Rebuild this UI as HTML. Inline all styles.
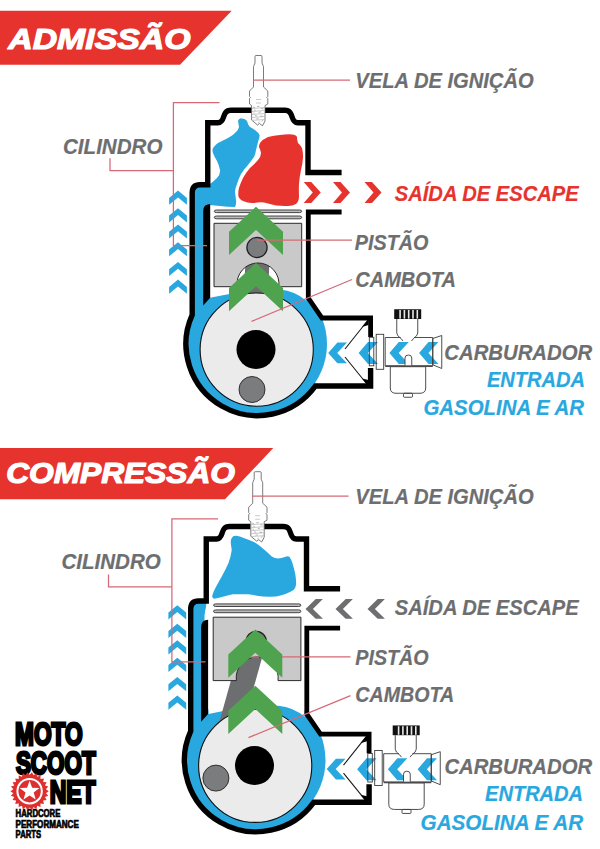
<!DOCTYPE html>
<html><head><meta charset="utf-8"><title>Motor 2T</title>
<style>html,body{margin:0;padding:0;background:#fff}svg{display:block}</style></head>
<body>
<svg width="600" height="849" viewBox="0 0 600 849" font-family="'Liberation Sans', sans-serif" font-weight="bold" font-style="italic">
<rect width="600" height="849" fill="#fff"/>
<polygon points="0,10.8 231.7,10.8 180,64.7 0,64.7" fill="#e6332e"/>
<polygon points="0,448 273.3,448 225,499.2 0,499.2" fill="#e6332e"/>
<g><circle cx="257.5" cy="344" r="69.5" fill="#29a8e0"/>
<rect x="192" y="186" width="14" height="140" fill="#29a8e0"/>
<path d="M210,150 H306 V300.5 Q295,291 280,289.5 Q250,289 210,297.75 Z" fill="#fff"/>
<path d="M238,121 Q239,117.5 242,118.4 Q245.5,118.6 247,121 Q248,125 250,127 Q254,129 256,131 Q260,133.5 259.6,136 Q259,139 258,142 L256,150 Q255.5,154 254,157 Q251,161 248,165 Q244,169 241,174 Q238.5,179 237,184 Q235.2,188 235,192 Q235.5,196 236,200 Q236.5,204 235,207 Q228,207 220,206 Q212,205 204,204.5 L193,204 L193,186 L204,186 Q207,186 210,184 Q214,181 217,178 Q220.5,174 220,170 Q219,165 217,161 Q214,156 213,153 Q212,150.5 213,148 Q215,145 218,143 Q223,140.5 228,138 Q233,135.5 236,132 Q238.5,129.5 239,127 Q238.5,124 238,121 Z" fill="#29a8e0"/>
<path d="M260,143 Q263,139 268,137 Q274,135.5 280,135 Q286,134.2 292,134.4 Q296,134.8 297,137 Q297,140 298,143 Q300.5,145 302,148 Q303.3,153 303,158 Q302.5,164 301,170 Q299.5,177 299,184 Q298.7,190 299,196 Q299,201.5 296,204 Q292.5,206 288,206 Q282,206.2 276,205.6 Q270,204 264,202.4 Q259,202 254,203 Q248,203.5 243,201 Q239,199 238.4,196 Q238,192 239,188 Q240.5,183 243,178 Q246,172.5 250,168 Q254.5,164 258,160 Q261,156.5 261,153 Q260.5,150 259,147 Q259,145 260,143 Z" fill="#e6332e"/>
<path d="M368.5,319.5 L345,349 M345,357 L368.5,386" stroke="#1a1a1a" stroke-width="1.1" fill="none"/>
<path d="M368.5,319 L368.5,325 L362,327 Z M368.5,386.5 L368.5,380 L362,378.5 Z" fill="#000"/>
<path d="M341.6,172.5 H308 V122.75 H297.7 C289.7,122.75 294.7,110.25 284.7,110.25 H265 M252,110.25 H231 C221,110.25 226,122.75 218,122.75 H207.75 V184.8 H200 Q192.2,184.8 192.2,193 V314.9 A71.5,71.5 0 0 0 315.4,386 H370.6 V368" fill="none" stroke="#000" stroke-width="5.4" stroke-linejoin="miter"/>
<path d="M341.6,212 H308.3 V298 L322,318 H370.6 V337" fill="none" stroke="#000" stroke-width="4.8" stroke-linejoin="miter"/>
<path d="M203.2,211 Q203.2,204 210.2,204 V297.7 L203.2,305.6 Z" fill="#000"/>
<line x1="258" y1="247.5" x2="252" y2="389.5" stroke="#6d6e70" stroke-width="24"/>
<g transform="translate(0.00,0.00)">
<path d="M214.3,211.30 Q214.3,210.00 216.5,210.00 H299.5 Q301.7,210.00 301.7,211.30 Q301.7,212.60 299.5,212.60 H216.5 Q214.3,212.60 214.3,211.30 Z" fill="#bdbdbd" stroke="#333" stroke-width="0.9"/>
<path d="M214.3,217.40 Q214.3,216.00 216.5,216.00 H299.5 Q301.7,216.00 301.7,217.40 Q301.7,218.80 299.5,218.80 H216.5 Q214.3,218.80 214.3,217.40 Z" fill="#bdbdbd" stroke="#333" stroke-width="0.9"/>
<path d="M214,223.3 H301.7 V286.7 H278.82 A21,21 0 1 0 237.18,286.7 H214 Z" fill="#c9c9c9" stroke="#2a2a2a" stroke-width="1"/>
<circle cx="257" cy="247.5" r="10.1" fill="#7b7c7e" stroke="#222" stroke-width="1.3"/>
</g>
<circle cx="256.7" cy="349.6" r="56.6" fill="#ebebeb" stroke="#111" stroke-width="1.1"/>
<circle cx="256" cy="349.4" r="19.5" fill="#000"/>
<circle cx="252" cy="389.5" r="13" fill="#7b7c7e" stroke="#222" stroke-width="0.9"/><polygon points="256.00,206.70 283.00,231.70 283.00,255.00 256.00,230.00 229.00,255.00 229.00,231.70" fill="#4fa34f"/>
<polygon points="256.00,263.00 283.00,288.00 283.00,311.30 256.00,286.30 229.00,311.30 229.00,288.00" fill="#4fa34f"/><polygon points="178.00,190.60 186.90,197.90 186.90,204.70 178.00,197.40 169.10,204.70 169.10,197.90" fill="#29a8e0"/>
<polygon points="178.00,208.30 186.90,215.60 186.90,222.40 178.00,215.10 169.10,222.40 169.10,215.60" fill="#29a8e0"/>
<polygon points="178.00,224.50 186.90,231.80 186.90,238.60 178.00,231.30 169.10,238.60 169.10,231.80" fill="#29a8e0"/>
<polygon points="178.00,242.20 186.90,249.50 186.90,256.30 178.00,249.00 169.10,256.30 169.10,249.50" fill="#29a8e0"/>
<polygon points="178.00,262.00 186.90,269.30 186.90,276.10 178.00,268.80 169.10,276.10 169.10,269.30" fill="#29a8e0"/>
<polygon points="178.00,279.60 186.90,286.90 186.90,293.70 178.00,286.40 169.10,293.70 169.10,286.90" fill="#29a8e0"/>
<polygon points="328.20,352.90 337.40,342.50 347.00,342.50 337.20,352.90 347.00,363.30 337.40,363.30" fill="#29a8e0"/>
<polygon points="358.60,353.10 368.00,342.10 378.00,342.10 367.90,353.10 378.00,364.10 368.00,364.10" fill="#29a8e0"/>
<polygon points="389.40,353.10 398.80,342.10 408.80,342.10 398.70,353.10 408.80,364.10 398.80,364.10" fill="#29a8e0"/>
<polygon points="419.10,353.10 428.50,342.10 438.50,342.10 428.40,353.10 438.50,364.10 428.50,364.10" fill="#29a8e0"/>
<rect x="369.3" y="337.3" width="4.5" height="28.5" fill="none" stroke="#3a3a3a" stroke-width="0.9"/>
<rect x="376.2" y="334.3" width="7.5" height="35" fill="none" stroke="#3a3a3a" stroke-width="0.9"/>
<path d="M396.75,319 V333 Q397,336 401,338.5 L403,341 M417.75,319 V333 Q417.5,336 413.5,338.5 L411.5,341" fill="none" stroke="#3a3a3a" stroke-width="0.9"/>
<path d="M400.5,337.5 H385.2 V365.8 H432.75 V337.5 H414" fill="none" stroke="#3a3a3a" stroke-width="0.9"/>
<path d="M432.75,338.5 L441.75,335.5 V368.5 L432.75,364.75 Z" fill="none" stroke="#3a3a3a" stroke-width="0.9"/>
<path d="M390.3,366.7 H425.7 V388 Q425.7,393.25 420,393.25 H396 Q390.3,393.25 390.3,388 Z" fill="none" stroke="#3a3a3a" stroke-width="0.9"/>
<rect x="403.5" y="393.25" width="9" height="4" rx="1" fill="none" stroke="#3a3a3a" stroke-width="0.9"/>
<path d="M405,365.5 V358 Q405,355 408.4,355 Q411.75,355 411.75,358 V365.5" fill="#fff" stroke="#3a3a3a" stroke-width="0.9"/>
<path d="M385.2,366.2 H432.75" fill="none" stroke="#4a4a4a" stroke-width="1.5"/>
<rect x="394.2" y="309.25" width="27" height="9.75" fill="#111"/>
<rect x="399.3" y="310" width="1.6" height="8.6" fill="#e8e8e8"/>
<rect x="403.6" y="310" width="1.6" height="8.6" fill="#e8e8e8"/>
<rect x="407.9" y="310" width="1.6" height="8.6" fill="#e8e8e8"/>
<rect x="412.2" y="310" width="1.6" height="8.6" fill="#e8e8e8"/>
<rect x="416.5" y="310" width="1.6" height="8.6" fill="#e8e8e8"/>
<polygon points="303.75,182.00 311.25,182.00 320.75,192.50 311.25,203.00 303.75,203.00 312.75,192.50" fill="#e6332e"/>
<polygon points="333.00,182.00 340.50,182.00 350.00,192.50 340.50,203.00 333.00,203.00 342.00,192.50" fill="#e6332e"/>
<polygon points="364.50,182.00 372.00,182.00 381.50,192.50 372.00,203.00 364.50,203.00 373.50,192.50" fill="#e6332e"/>
<g transform="translate(0.0,0)">
<path d="M255,63 V56.5 Q255,55.5 256,55.5 H261 Q262,55.5 262,56.5 V63 L263.5,66.5 V87 L267.8,91 V96.5 L266.8,97.5 L267.8,98.5 V104 L265,105.5 V121 L262.5,125.8 L259.5,123.5 L257.5,125 L251.6,120 V105.5 L249.5,104 V98.5 L250.5,97.5 L249.5,96.5 V91 L253.5,87 V66.5 Z" fill="#fff" stroke="#5a5a5a" stroke-width="0.8" stroke-linejoin="round"/>
<path d="M252,108.5 L264.6,107.5 M252,111.5 L264.6,110.5 M252,114.5 L264.6,113.5 M252,117.5 L264.6,116.5 M252.5,120.3 L264.6,119.5 M256,99.5 H261 M256,103 H261" stroke="#bbb" stroke-width="0.8" fill="none"/>
<path d="M253,107 l2,0.6 M257,106.6 l2.5,-0.4 M261,108.6 l2.6,0.2 M254,110 l1.6,0.3 M258.6,112.4 l2.2,-0.5 M255,115.6 l2,0.5 M260.4,116 l2.4,0.3 M256.4,119 l2.2,-0.4 M253.4,113 l1.2,0.2 M261.6,121.4 l1.6,-1.2 M258.2,122.6 l1.4,-0.8" stroke="#999" stroke-width="0.7" fill="none"/>
</g>
<path d="M253.5,80 H350" fill="none" stroke="#d66876" stroke-width="1.25"/>
<path d="M219.5,102.6 H173.4 V245.7 H207 M110,158.3 V170.7 H173.4" fill="none" stroke="#d66876" stroke-width="1.25"/>
<path d="M257,240.2 H352" fill="none" stroke="#d66876" stroke-width="1.25"/>
<path d="M251.6,321.4 L352,279.5" fill="none" stroke="#d66876" stroke-width="1.25"/></g>
<g transform="translate(-1.50,416.20)"><circle cx="257.5" cy="344" r="69.5" fill="#29a8e0"/>
<rect x="192" y="186" width="14" height="140" fill="#29a8e0"/>
<path d="M210,150 H306 V300.5 Q295,291 280,289.5 Q250,289 210,297.75 Z" fill="#fff"/>
<path transform="translate(1,0.3)" d="M232.25,121.5 Q233.5,119 236.6,119.35 Q240.5,119.8 244.2,121.5 Q250,123.5 255,125.85 Q259.5,128.5 263.7,132.35 Q268,136 272.3,139.9 Q275,142 278.8,142.1 Q282,141.5 285.3,140.4 Q288.5,139.3 290.1,140.4 Q291.8,143 292.9,146.4 Q294.6,152 295.7,157.3 Q296.8,163 296.6,168.1 Q296.2,171.5 294,173.5 Q290,176.2 285.3,177.85 Q281,179.3 276.7,180 Q270,180.3 263.7,180 Q256,179 248.5,177.85 Q241,177.5 233.3,177.85 Q228,179 222.5,180.6 Q218,182 214.9,182.2 Q212.3,181.5 212.75,178.9 Q214,175 216,171.35 Q219,165.5 222.5,159.4 Q226,153 229,146.4 Q231.3,140 232.25,133.4 Q231.5,129 231.2,125.85 Q231.3,123 232.25,121.5 Z" fill="#29a8e0"/>
<path d="M193,186 L208,186.5 Q207,197 203,206 L193,206 Z" fill="#29a8e0"/>
<path d="M368.5,319.5 L345,349 M345,357 L368.5,386" stroke="#1a1a1a" stroke-width="1.1" fill="none"/>
<path d="M368.5,319 L368.5,325 L362,327 Z M368.5,386.5 L368.5,380 L362,378.5 Z" fill="#000"/>
<path d="M341.6,172.5 H308 V122.75 H297.7 C289.7,122.75 294.7,110.25 284.7,110.25 H265 M252,110.25 H231 C221,110.25 226,122.75 218,122.75 H207.75 V184.8 H200 Q192.2,184.8 192.2,193 V314.9 A71.5,71.5 0 0 0 315.4,386 H370.6 V368" fill="none" stroke="#000" stroke-width="5.4" stroke-linejoin="miter"/>
<path d="M341.6,212 H308.3 V298 L322,318 H370.6 V337" fill="none" stroke="#000" stroke-width="4.8" stroke-linejoin="miter"/>
<path d="M202.6,211 Q202.6,204 209.6,203.6 V297.7 L202.6,305.6 Z" fill="#000"/>
<line x1="255.9" y1="224.6" x2="217.6" y2="361.6" stroke="#6d6e70" stroke-width="23.8"/>
<g transform="translate(0.70,-22.30)">
<path d="M214.3,211.30 Q214.3,210.00 216.5,210.00 H299.5 Q301.7,210.00 301.7,211.30 Q301.7,212.60 299.5,212.60 H216.5 Q214.3,212.60 214.3,211.30 Z" fill="#bdbdbd" stroke="#333" stroke-width="0.9"/>
<path d="M214.3,217.40 Q214.3,216.00 216.5,216.00 H299.5 Q301.7,216.00 301.7,217.40 Q301.7,218.80 299.5,218.80 H216.5 Q214.3,218.80 214.3,217.40 Z" fill="#bdbdbd" stroke="#333" stroke-width="0.9"/>
<path d="M214,223.3 H301.7 V286.7 H278.82 A21,21 0 1 0 237.18,286.7 H214 Z" fill="#c9c9c9" stroke="#2a2a2a" stroke-width="1"/>
<circle cx="257" cy="247.5" r="10.1" fill="#7b7c7e" stroke="#222" stroke-width="1.3"/>
</g>
<circle cx="256.7" cy="349.6" r="56.6" fill="#ebebeb" stroke="#111" stroke-width="1.1"/>
<circle cx="256" cy="349.4" r="19.5" fill="#000"/>
<circle cx="217.4" cy="361.9" r="13" fill="#7b7c7e" stroke="#222" stroke-width="0.9"/><polygon points="256.80,213.30 283.80,238.30 283.80,261.60 256.80,236.60 229.80,261.60 229.80,238.30" fill="#4fa34f"/>
<polygon points="256.80,269.60 283.80,294.60 283.80,317.90 256.80,292.90 229.80,317.90 229.80,294.60" fill="#4fa34f"/><polygon points="178.80,189.00 187.70,196.30 187.70,203.20 178.80,195.90 169.90,203.20 169.90,196.30" fill="#29a8e0"/>
<polygon points="178.80,207.60 187.70,214.90 187.70,221.80 178.80,214.50 169.90,221.80 169.90,214.90" fill="#29a8e0"/>
<polygon points="178.80,224.00 187.70,231.30 187.70,238.20 178.80,230.90 169.90,238.20 169.90,231.30" fill="#29a8e0"/>
<polygon points="178.80,241.60 187.70,248.90 187.70,255.80 178.80,248.50 169.90,255.80 169.90,248.90" fill="#29a8e0"/>
<polygon points="178.80,260.80 187.70,268.10 187.70,275.00 178.80,267.70 169.90,275.00 169.90,268.10" fill="#29a8e0"/>
<polygon points="178.80,279.30 187.70,286.60 187.70,293.50 178.80,286.20 169.90,293.50 169.90,286.60" fill="#29a8e0"/>
<polygon points="328.20,352.90 337.40,342.50 347.00,342.50 337.20,352.90 347.00,363.30 337.40,363.30" fill="#29a8e0"/>
<polygon points="358.60,353.10 368.00,342.10 378.00,342.10 367.90,353.10 378.00,364.10 368.00,364.10" fill="#29a8e0"/>
<polygon points="389.40,353.10 398.80,342.10 408.80,342.10 398.70,353.10 408.80,364.10 398.80,364.10" fill="#29a8e0"/>
<polygon points="419.10,353.10 428.50,342.10 438.50,342.10 428.40,353.10 438.50,364.10 428.50,364.10" fill="#29a8e0"/>
<rect x="369.3" y="337.3" width="4.5" height="28.5" fill="none" stroke="#3a3a3a" stroke-width="0.9"/>
<rect x="376.2" y="334.3" width="7.5" height="35" fill="none" stroke="#3a3a3a" stroke-width="0.9"/>
<path d="M396.75,319 V333 Q397,336 401,338.5 L403,341 M417.75,319 V333 Q417.5,336 413.5,338.5 L411.5,341" fill="none" stroke="#3a3a3a" stroke-width="0.9"/>
<path d="M400.5,337.5 H385.2 V365.8 H432.75 V337.5 H414" fill="none" stroke="#3a3a3a" stroke-width="0.9"/>
<path d="M432.75,338.5 L441.75,335.5 V368.5 L432.75,364.75 Z" fill="none" stroke="#3a3a3a" stroke-width="0.9"/>
<path d="M390.3,366.7 H425.7 V388 Q425.7,393.25 420,393.25 H396 Q390.3,393.25 390.3,388 Z" fill="none" stroke="#3a3a3a" stroke-width="0.9"/>
<rect x="403.5" y="393.25" width="9" height="4" rx="1" fill="none" stroke="#3a3a3a" stroke-width="0.9"/>
<path d="M405,365.5 V358 Q405,355 408.4,355 Q411.75,355 411.75,358 V365.5" fill="#fff" stroke="#3a3a3a" stroke-width="0.9"/>
<path d="M385.2,366.2 H432.75" fill="none" stroke="#4a4a4a" stroke-width="1.5"/>
<rect x="394.2" y="309.25" width="27" height="9.75" fill="#111"/>
<rect x="399.3" y="310" width="1.6" height="8.6" fill="#e8e8e8"/>
<rect x="403.6" y="310" width="1.6" height="8.6" fill="#e8e8e8"/>
<rect x="407.9" y="310" width="1.6" height="8.6" fill="#e8e8e8"/>
<rect x="412.2" y="310" width="1.6" height="8.6" fill="#e8e8e8"/>
<rect x="416.5" y="310" width="1.6" height="8.6" fill="#e8e8e8"/>
<polygon points="307.00,192.70 317.20,182.90 324.40,182.90 314.40,192.70 324.40,202.50 317.20,202.50" fill="#6d6e70"/>
<polygon points="337.00,192.70 347.20,182.90 354.40,182.90 344.40,192.70 354.40,202.50 347.20,202.50" fill="#6d6e70"/>
<polygon points="369.00,192.70 379.20,182.90 386.40,182.90 376.40,192.70 386.40,202.50 379.20,202.50" fill="#6d6e70"/>
<g transform="translate(0.7,0)">
<path d="M255,63 V56.5 Q255,55.5 256,55.5 H261 Q262,55.5 262,56.5 V63 L263.5,66.5 V87 L267.8,91 V96.5 L266.8,97.5 L267.8,98.5 V104 L265,105.5 V121 L262.5,125.8 L259.5,123.5 L257.5,125 L251.6,120 V105.5 L249.5,104 V98.5 L250.5,97.5 L249.5,96.5 V91 L253.5,87 V66.5 Z" fill="#fff" stroke="#5a5a5a" stroke-width="0.8" stroke-linejoin="round"/>
<path d="M252,108.5 L264.6,107.5 M252,111.5 L264.6,110.5 M252,114.5 L264.6,113.5 M252,117.5 L264.6,116.5 M252.5,120.3 L264.6,119.5 M256,99.5 H261 M256,103 H261" stroke="#bbb" stroke-width="0.8" fill="none"/>
<path d="M253,107 l2,0.6 M257,106.6 l2.5,-0.4 M261,108.6 l2.6,0.2 M254,110 l1.6,0.3 M258.6,112.4 l2.2,-0.5 M255,115.6 l2,0.5 M260.4,116 l2.4,0.3 M256.4,119 l2.2,-0.4 M253.4,113 l1.2,0.2 M261.6,121.4 l1.6,-1.2 M258.2,122.6 l1.4,-0.8" stroke="#999" stroke-width="0.7" fill="none"/>
</g>
<path d="M253.5,80 H350" fill="none" stroke="#d66876" stroke-width="1.25"/>
<path d="M219.5,102.6 H173.4 V245.7 H207 M110,158.3 V170.7 H173.4" fill="none" stroke="#d66876" stroke-width="1.25"/>
<path d="M283.5,240.6 H352 M253,241 H260.5" fill="none" stroke="#d66876" stroke-width="1.25"/>
<path d="M250,321.4 L352,279.5" fill="none" stroke="#d66876" stroke-width="1.25"/></g>
<text x="8.20" y="48.70" textLength="182.40" lengthAdjust="spacingAndGlyphs" fill="#fff" font-size="29.60" stroke="#fff" stroke-width="1.2" stroke-linejoin="round">ADMISSÃO</text>
<text x="6.20" y="483.40" textLength="228.80" lengthAdjust="spacingAndGlyphs" fill="#fff" font-size="29.40" stroke="#fff" stroke-width="1.2" stroke-linejoin="round">COMPRESSÃO</text>
<text x="355.30" y="87.50" textLength="178.40" lengthAdjust="spacingAndGlyphs" fill="#6d6e70" font-size="22.20" stroke="#6d6e70" stroke-width="0.2">VELA DE IGNIÇÃO</text>
<text x="63.00" y="153.80" textLength="99.40" lengthAdjust="spacingAndGlyphs" fill="#6d6e70" font-size="22.20" stroke="#6d6e70" stroke-width="0.2">CILINDRO</text>
<text x="394.80" y="200.50" textLength="183.90" lengthAdjust="spacingAndGlyphs" fill="#e6332e" font-size="22.20" stroke="#e6332e" stroke-width="0.2">SAÍDA DE ESCAPE</text>
<text x="354.80" y="249.80" textLength="73.65" lengthAdjust="spacingAndGlyphs" fill="#6d6e70" font-size="22.20" stroke="#6d6e70" stroke-width="0.2">PISTÃO</text>
<text x="355.30" y="286.55" textLength="100.60" lengthAdjust="spacingAndGlyphs" fill="#6d6e70" font-size="22.20" stroke="#6d6e70" stroke-width="0.2">CAMBOTA</text>
<text x="444.30" y="359.80" textLength="147.90" lengthAdjust="spacingAndGlyphs" fill="#6d6e70" font-size="22.20" stroke="#6d6e70" stroke-width="0.2">CARBURADOR</text>
<text x="486.90" y="386.80" textLength="98.10" lengthAdjust="spacingAndGlyphs" fill="#29a8e0" font-size="22.20" stroke="#29a8e0" stroke-width="0.2">ENTRADA</text>
<text x="423.50" y="414.80" textLength="160.60" lengthAdjust="spacingAndGlyphs" fill="#29a8e0" font-size="22.20" stroke="#29a8e0" stroke-width="0.2">GASOLINA E AR</text>
<text x="355.30" y="503.80" textLength="178.40" lengthAdjust="spacingAndGlyphs" fill="#6d6e70" font-size="22.20" stroke="#6d6e70" stroke-width="0.2">VELA DE IGNIÇÃO</text>
<text x="61.50" y="568.80" textLength="99.20" lengthAdjust="spacingAndGlyphs" fill="#6d6e70" font-size="22.20" stroke="#6d6e70" stroke-width="0.2">CILINDRO</text>
<text x="394.80" y="615.30" textLength="183.90" lengthAdjust="spacingAndGlyphs" fill="#6d6e70" font-size="22.20" stroke="#6d6e70" stroke-width="0.2">SAÍDA DE ESCAPE</text>
<text x="355.30" y="664.80" textLength="73.40" lengthAdjust="spacingAndGlyphs" fill="#6d6e70" font-size="22.20" stroke="#6d6e70" stroke-width="0.2">PISTÃO</text>
<text x="355.30" y="702.30" textLength="98.90" lengthAdjust="spacingAndGlyphs" fill="#6d6e70" font-size="22.20" stroke="#6d6e70" stroke-width="0.2">CAMBOTA</text>
<text x="444.40" y="773.80" textLength="147.70" lengthAdjust="spacingAndGlyphs" fill="#6d6e70" font-size="22.20" stroke="#6d6e70" stroke-width="0.2">CARBURADOR</text>
<text x="485.00" y="800.80" textLength="98.10" lengthAdjust="spacingAndGlyphs" fill="#29a8e0" font-size="22.20" stroke="#29a8e0" stroke-width="0.2">ENTRADA</text>
<text x="420.60" y="829.80" textLength="162.50" lengthAdjust="spacingAndGlyphs" fill="#29a8e0" font-size="22.20" stroke="#29a8e0" stroke-width="0.2">GASOLINA E AR</text>
<text x="15.00" y="744.90" textLength="67.60" lengthAdjust="spacingAndGlyphs" fill="#000" font-size="30.60" font-style="normal" font-weight="bold" stroke="#000" stroke-width="2.8" stroke-linejoin="miter">MOTO</text>
<text x="15.90" y="773.60" textLength="79.80" lengthAdjust="spacingAndGlyphs" fill="#000" font-size="30.60" font-style="normal" font-weight="bold" stroke="#000" stroke-width="2.8" stroke-linejoin="miter">SCOOT</text>
<text x="49.70" y="802.80" textLength="45.90" lengthAdjust="spacingAndGlyphs" fill="#000" font-size="30.60" font-style="normal" font-weight="bold" stroke="#000" stroke-width="2.8" stroke-linejoin="miter">NET</text>
<text x="15.60" y="817.20" textLength="44.80" lengthAdjust="spacingAndGlyphs" fill="#000" font-size="10.00" font-style="normal" font-weight="bold" stroke="#000" stroke-width="0.7" stroke-linejoin="miter">HARDCORE</text>
<text x="15.60" y="827.70" textLength="63.20" lengthAdjust="spacingAndGlyphs" fill="#000" font-size="10.00" font-style="normal" font-weight="bold" stroke="#000" stroke-width="0.7" stroke-linejoin="miter">PERFORMANCE</text>
<text x="15.60" y="838.00" textLength="25.40" lengthAdjust="spacingAndGlyphs" fill="#000" font-size="10.00" font-style="normal" font-weight="bold" stroke="#000" stroke-width="0.7" stroke-linejoin="miter">PARTS</text>
<polygon points="48.80,791.20 45.88,793.18 48.24,795.79 44.93,797.02 46.60,800.12 43.10,800.52 43.97,803.93 40.48,803.48 40.51,807.00 37.22,805.72 36.41,809.15 33.52,807.12 31.91,810.26 29.60,807.60 27.29,810.26 25.68,807.12 22.79,809.15 21.98,805.72 18.69,807.00 18.72,803.48 15.23,803.93 16.10,800.52 12.60,800.12 14.27,797.02 10.96,795.79 13.32,793.18 10.40,791.20 13.32,789.22 10.96,786.61 14.27,785.38 12.60,782.28 16.10,781.88 15.23,778.47 18.72,778.92 18.69,775.40 21.98,776.68 22.79,773.25 25.68,775.28 27.29,772.14 29.60,774.80 31.91,772.14 33.52,775.28 36.41,773.25 37.22,776.68 40.51,775.40 40.48,778.92 43.97,778.47 43.10,781.88 46.60,782.28 44.93,785.38 48.24,786.61 45.88,789.22" fill="#dd2f2f"/>
<circle cx="29.6" cy="791.2" r="12.2" fill="none" stroke="#fff" stroke-width="2"/>
<polygon points="29.60,780.80 32.13,787.72 39.49,787.99 33.69,792.53 35.71,799.61 29.60,795.50 23.49,799.61 25.51,792.53 19.71,787.99 27.07,787.72" fill="#fff"/>
</svg>
</body></html>
